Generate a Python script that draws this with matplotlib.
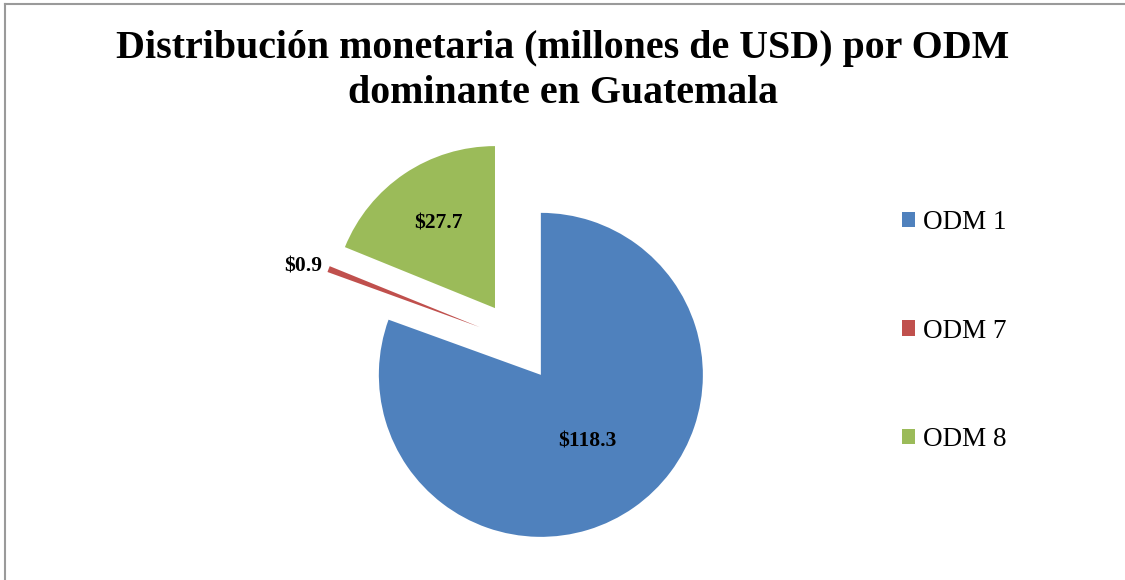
import matplotlib
matplotlib.use("Agg")
import matplotlib.pyplot as plt
import numpy as np
from matplotlib.patches import Patch
from matplotlib.lines import Line2D

# Data
categorias = ["ODM 1", "ODM 7", "ODM 8"]
montos = [118.3, 0.9, 27.7]
etiquetas = ["$118.3", "$0.9", "$27.7"]
colores = ["#4F81BD", "#C0504D", "#9BBB59"]
titulo = "Distribución monetaria (millones de USD) por ODM\ndominante en Guatemala"

W, H = 1125, 580
SERIF = ["Liberation Serif", "DejaVu Serif"]
plt.rcParams["font.family"] = SERIF

fig = plt.figure(figsize=(W / 100, H / 100), dpi=100)

# pie axes: centre and radius in pixels
cx, cy, r_px = 517.6, 341.7, 162
L = 1.6
side = 2 * L * r_px
ax = fig.add_axes([(cx - side / 2) / W, (H - cy - side / 2) / H, side / W, side / H])

wedges, _ = ax.pie(montos, colors=colores, startangle=90, counterclock=False,
                   explode=[0.25] * len(montos), radius=1.0,
                   wedgeprops={"linewidth": 0})
ax.set_xlim(-L, L); ax.set_ylim(-L, L)
ax.set_aspect("equal")
ax.axis("off")
for w in wedges:
    w.set_clip_on(False)

# value labels (distance from each wedge's own apex, in radii)
dists = [0.5, 1.04, 0.63]
for w, txt, d in zip(wedges, etiquetas, dists):
    mid = np.deg2rad((w.theta1 + w.theta2) / 2)
    x0, y0 = w.center
    ha = "right" if d > 1 else "center"
    ax.text(x0 + d * np.cos(mid), y0 + d * np.sin(mid), txt, ha=ha, va="center",
            fontsize=15.5, fontweight="bold", color="black")

fig.text(0.5, 1 - 71 / H, titulo, ha="center", va="center", fontsize=28.7,
         fontweight="bold", linespacing=1.3)

handles = [Patch(facecolor=c, edgecolor="none") for c in colores]
fig.legend(handles, categorias, loc="center left", bbox_to_anchor=(888 / W, 1 - 331 / H),
           frameon=False, fontsize=19.5, labelspacing=3.08, handlelength=0.5,
           handleheight=0.5, handletextpad=0.3, borderpad=0)

# chart-area border (top and left visible)
fig.add_artist(Line2D([5 / W, 1], [1 - 4 / H, 1 - 4 / H], color="#9a9a9a", lw=1.5))
fig.add_artist(Line2D([5 / W, 5 / W], [0, 1 - 4 / H], color="#9a9a9a", lw=1.5))

fig.savefig("out.png", dpi=100, facecolor="white")
